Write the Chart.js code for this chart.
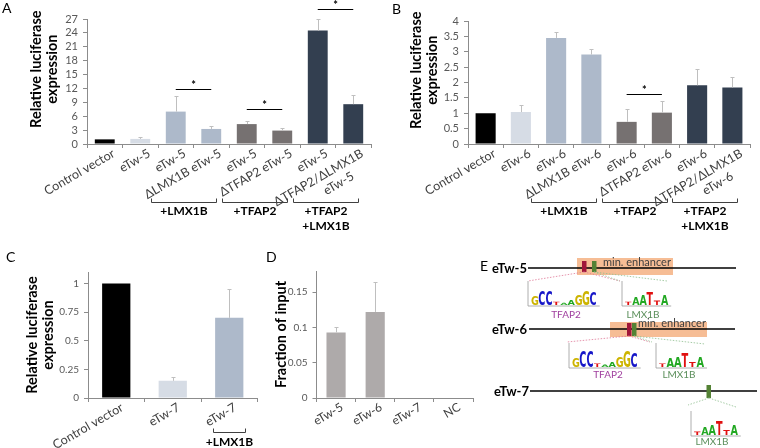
<!DOCTYPE html>
<html>
<head>
<meta charset="utf-8">
<script src="https://cdn.jsdelivr.net/npm/chart.js@4.4.0/dist/chart.umd.min.js"></script>
<style>
  html, body { margin: 0; padding: 0; background: #fff; }
  #page { position: relative; width: 760px; height: 448px; overflow: hidden; font-family: Lato, "Liberation Sans", sans-serif; }
  .panel { position: absolute; }
  .tag { position: absolute; font-size: 14px; line-height: 14px; color: #000; }
</style>
</head>
<body>
<div id="page">
  <canvas class="panel" id="chartA" width="380" height="240" style="left:0;top:0"></canvas>
  <canvas class="panel" id="chartB" width="380" height="240" style="left:380px;top:0"></canvas>
  <canvas class="panel" id="chartC" width="260" height="190" style="left:0;top:258px"></canvas>
  <canvas class="panel" id="chartD" width="230" height="190" style="left:255px;top:258px"></canvas>
  <svg class="panel" id="panelE" width="290" height="198" viewBox="470 250 290 198" style="left:470px;top:250px"></svg>
  <div class="tag" style="left:2px;top:1px">A</div>
  <div class="tag" style="left:392px;top:2px">B</div>
  <div class="tag" style="left:6px;top:250px">C</div>
  <div class="tag" style="left:266px;top:250px">D</div>
</div>
<script>
// ---- data ----
const labelsA = ['Control vector', 'eTw-5', 'eTw-5', 'ΔLMX1B eTw-5', 'eTw-5', 'ΔTFAP2 eTw-5', 'eTw-5', ['ΔTFAP2/ΔLMX1B', 'eTw-5      ']];
const valuesA = [1.0, 1.1, 7.0, 3.25, 4.3, 2.9, 24.5, 8.6];
const errorsA = [0, 0.4, 3.4, 0.65, 0.7, 0.5, 2.6, 2.0];
const sigA = [{ from: 2, to: 3, at: 11.9 }, { from: 4, to: 5, at: 7.6 }, { from: 6, to: 7, at: 29.2 }];

const labelsB = ['Control vector', 'eTw-6', 'eTw-6', 'ΔLMX1B eTw-6', 'eTw-6', 'ΔTFAP2 eTw-6', 'eTw-6', ['ΔTFAP2/ΔLMX1B', 'eTw-6      ']];
const valuesB = [1.0, 1.04, 3.45, 2.91, 0.72, 1.02, 1.91, 1.84];
const errorsB = [0, 0.23, 0.18, 0.19, 0.43, 0.38, 0.52, 0.34];
const sigB = [{ from: 4, to: 5, at: 1.63 }];

const groupsAB = [
    { from: 2, to: 3, lines: ['+LMX1B'] },
    { from: 4, to: 5, lines: ['+TFAP2'] },
    { from: 6, to: 7, lines: ['+TFAP2', '+LMX1B'] }
];

const labelsC = ['Control vector', 'eTw-7', 'eTw-7'];
const valuesC = [1.0, 0.15, 0.70];
const errorsC = [0, 0.03, 0.25];
const groupsC = [{ from: 2, to: 2, lines: ['+LMX1B'] }];

const labelsD = ['eTw-5', 'eTw-6', 'eTw-7', 'NC'];
const valuesD = [0.093, 0.122, 0, 0];
const errorsD = [0.007, 0.043, 0, 0];

// leading spaces lift the A/B titles above the axis centre, as in the figure
const titleAB = ['       Relative luciferase', '       expression'];
const titleC = ['Relative luciferase', 'expression'];
const colorsAB = ['#000000', '#d6dce5', '#adb9ca', '#adb9ca', '#767171', '#767171', '#333f50', '#333f50'];
const colorsC = ['#000000', '#d6dce5', '#adb9ca'];
const colorD = '#aeaaaa';

// sequence logo letters: [base, height in px]
const logoTFAP2 = [['G', 8], ['C', 13], ['C', 13], ['T', 3], ['A', 2], ['A', 4], ['G', 9], ['G', 13], ['C', 12]];
const logoLMX1B = [['T', 3], ['A', 7], ['A', 9], ['T', 12], ['T', 4], ['A', 9]];

const AXIS = '#8c8c8c';
const FONT = 'Lato, "Liberation Sans", sans-serif';
Chart.defaults.font.family = FONT;

function fmt(v) {
    return String(+Number(v).toFixed(2));
}

function makeBarChart(id, o) {
    const errorBars = {
        id: 'errorBars',
        afterDatasetsDraw(chart) {
            const meta = chart.getDatasetMeta(0);
            const y = chart.scales.y;
            const ctx = chart.ctx;
            ctx.save();
            ctx.strokeStyle = '#bfbfbf';
            ctx.lineWidth = 1;
            meta.data.forEach((bar, i) => {
                const e = o.errors[i];
                if (!e) {
                    return;
                }
                const top = Math.round(y.getPixelForValue(o.values[i] + e)) + 0.5;
                const bx = Math.round(bar.x) + 0.5;
                ctx.beginPath();
                ctx.moveTo(bx, bar.y);
                ctx.lineTo(bx, top);
                ctx.moveTo(bx - 2, top);
                ctx.lineTo(bx + 2, top);
                ctx.stroke();
            });
            ctx.restore();
        }
    };

    const extras = {
        id: 'extras',
        afterDraw(chart) {
            const x = chart.scales.x;
            const y = chart.scales.y;
            const ctx = chart.ctx;
            ctx.save();
            ctx.strokeStyle = '#000';
            ctx.fillStyle = '#000';
            ctx.lineWidth = 1;
            (o.sig || []).forEach(m => {
                const x1 = x.getPixelForValue(m.from);
                const x2 = x.getPixelForValue(m.to);
                const yy = Math.round(y.getPixelForValue(m.at)) + 0.5;
                ctx.beginPath();
                ctx.moveTo(x1, yy);
                ctx.lineTo(x2, yy);
                ctx.stroke();
                ctx.font = 'bold 11px ' + FONT;
                ctx.textAlign = 'center';
                ctx.textBaseline = 'middle';
                ctx.fillText('*', (x1 + x2) / 2, yy - 4);
            });
            const b = o.brackets;
            if (b) {
                b.groups.forEach(g => {
                    const x1 = Math.round(x.getPixelForValue(g.from) - b.padLeft) + 0.5;
                    const x2 = Math.round(x.getPixelForValue(g.to) + b.padRight) + 0.5;
                    const yb = b.y + 0.5;
                    ctx.strokeStyle = '#404040';
                    ctx.beginPath();
                    ctx.moveTo(x1, yb - 4);
                    ctx.lineTo(x1, yb);
                    ctx.lineTo(x2, yb);
                    ctx.lineTo(x2, yb - 4);
                    ctx.stroke();
                    ctx.font = 'bold 12px ' + FONT;
                    ctx.textAlign = 'center';
                    ctx.textBaseline = 'middle';
                    g.lines.forEach((t, k) => ctx.fillText(t, (x1 + x2) / 2, b.textY + k * 15));
                });
            }
            ctx.restore();
        }
    };

    return new Chart(document.getElementById(id), {
        type: 'bar',
        data: {
            labels: o.labels,
            datasets: [
                {
                    data: o.values,
                    backgroundColor: o.colors,
                    borderWidth: 0,
                    barPercentage: o.barPct,
                    categoryPercentage: 1
                }
            ]
        },
        options: {
            responsive: false,
            animation: false,
            layout: { padding: o.padding },
            plugins: {
                legend: { display: false },
                tooltip: { enabled: false }
            },
            scales: {
                x: {
                    grid: { offset: true, drawOnChartArea: false, tickLength: 4, color: AXIS },
                    border: { color: AXIS },
                    ticks: {
                        autoSkip: false,
                        maxRotation: 30,
                        minRotation: 30,
                        padding: -2,
                        labelOffset: o.labelShift,
                        color: '#404040',
                        font: { size: o.xFont }
                    },
                    afterFit: scale => { scale.height = o.xHeight; }
                },
                y: {
                    min: 0,
                    max: o.max,
                    grid: { drawOnChartArea: false, tickLength: 4, color: AXIS },
                    border: { color: AXIS },
                    ticks: {
                        stepSize: o.step,
                        autoSkip: false,
                        padding: 5,
                        color: '#595959',
                        font: { size: o.yFont, lineHeight: 1 },
                        callback: v => fmt(v)
                    },
                    title: {
                        display: true,
                        text: o.title,
                        color: '#000',
                        font: { size: 14.5, weight: 'bold', lineHeight: 1.05 },
                        padding: { top: 4, bottom: 0 }
                    },
                    afterBuildTicks: scale => {
                        scale.ticks = scale.ticks.filter(t => Math.abs(t.value / o.step - Math.round(t.value / o.step)) < 1e-6);
                    },
                    afterFit: scale => { scale.width = o.yWidth; }
                }
            }
        },
        plugins: [errorBars, extras]
    });
}

makeBarChart('chartA', {
    labels: labelsA, values: valuesA, errors: errorsA, colors: colorsAB, sig: sigA,
    brackets: { groups: groupsAB, padLeft: 25, padRight: 5, y: 202, textY: 211 },
    max: 27, step: 3, barPct: 0.56, title: titleAB,
    padding: { left: 25, top: 19, right: 9, bottom: 0 }, yWidth: 62, xHeight: 96,
    xFont: 12.5, yFont: 11, labelShift: 9
});

makeBarChart('chartB', {
    labels: labelsB, values: valuesB, errors: errorsB, colors: colorsAB, sig: sigB,
    brackets: { groups: groupsAB, padLeft: 25, padRight: 5, y: 202, textY: 211 },
    max: 4, step: 0.5, barPct: 0.57, title: titleAB,
    padding: { left: 25, top: 21, right: 10, bottom: 0 }, yWidth: 63, xHeight: 96,
    xFont: 12.5, yFont: 11, labelShift: 9
});

makeBarChart('chartC', {
    labels: labelsC, values: valuesC, errors: errorsC, colors: colorsC,
    brackets: { groups: groupsC, padLeft: 16, padRight: 16, y: 174, textY: 184 },
    max: 1.1, step: 0.25, barPct: 0.5, title: titleC,
    padding: { left: 21, top: 14, right: 2.5, bottom: 0 }, yWidth: 67, xHeight: 50,
    xFont: 12.5, yFont: 10, labelShift: 6
});

makeBarChart('chartD', {
    labels: labelsD, values: valuesD, errors: errorsD, colors: colorD,
    max: 0.18, step: 0.05, barPct: 0.49, title: 'Fraction of input',
    padding: { left: 14.5, top: 13, right: 12, bottom: 0 }, yWidth: 47, xHeight: 50,
    xFont: 12, yFont: 10, labelShift: 6
});

// ---- panel E: enhancer schematic ----
const SVGNS = 'http://www.w3.org/2000/svg';
const svg = document.getElementById('panelE');
const baseColors = { A: '#22a822', C: '#1616c8', G: '#cdb400', T: '#e01010' };

function el(tag, attrs, text) {
    const node = document.createElementNS(SVGNS, tag);
    Object.keys(attrs).forEach(k => node.setAttribute(k, attrs[k]));
    if (text !== undefined) {
        node.textContent = text;
    }
    svg.appendChild(node);
    return node;
}

function logo(x0, base, w, letters, scale) {
    el('line', { x1: x0 - 3, y1: base - 24, x2: x0 - 3, y2: base + 1, stroke: '#9a9a9a', 'stroke-width': 0.8 });
    el('line', { x1: x0 - 3, y1: base + 1, x2: x0 + letters.length * w + 3, y2: base + 1, stroke: '#9a9a9a', 'stroke-width': 0.8 });
    letters.forEach(([ch, h], i) => {
        el('text', {
            x: 0, y: 0, fill: baseColors[ch], 'font-family': 'DejaVu Sans', 'font-weight': 'bold', 'font-size': 10,
            transform: `translate(${x0 + i * w},${base}) scale(${w / 7.6},${(h * scale) / 7.3})`
        }, ch);
    });
}

function dotted(x1, y1, x2, y2, color) {
    el('line', { x1, y1, x2, y2, stroke: color, 'stroke-width': 0.8, 'stroke-dasharray': '1.5 1.5' });
}

function label(x, y, text, attrs) {
    return el('text', Object.assign({ x, y, 'font-family': FONT }, attrs), text);
}

label(480, 271, 'E', { 'font-size': 14 });

// eTw-5
el('rect', { x: 577, y: 258, width: 96, height: 17, fill: '#f4b183', opacity: 0.85 });
label(603, 266, 'min. enhancer', { 'font-size': 11, fill: '#404040' });
el('line', { x1: 528, y1: 268, x2: 736, y2: 268, stroke: '#000', 'stroke-width': 1.3 });
label(527, 273, 'eTw-5', { 'font-size': 13, 'font-weight': 'bold', 'text-anchor': 'end' });
el('rect', { x: 582, y: 261, width: 4.5, height: 11, fill: '#a0163a' });
el('rect', { x: 592, y: 261, width: 4.5, height: 11, fill: '#548235' });
dotted(584, 272, 528, 281, '#e07898');
dotted(584, 272, 620, 281, '#e07898');
dotted(594, 272, 620, 281, '#8fbf8f');
dotted(594, 272, 667, 281, '#8fbf8f');
logo(531, 305, 7.3, logoTFAP2, 1.1);
logo(625, 305, 7.2, logoLMX1B, 1.1);
label(566, 318, 'TFAP2', { 'font-size': 10, fill: '#a0409f', 'text-anchor': 'middle' });
label(643, 318, 'LMX1B', { 'font-size': 10, fill: '#5b8f5b', 'text-anchor': 'middle' });

// eTw-6
el('rect', { x: 610, y: 322, width: 97, height: 15, fill: '#f4b183', opacity: 0.85 });
label(638, 327, 'min. enhancer', { 'font-size': 11, fill: '#404040' });
el('line', { x1: 529, y1: 329, x2: 735, y2: 329, stroke: '#000', 'stroke-width': 1.3 });
label(527, 334, 'eTw-6', { 'font-size': 13, 'font-weight': 'bold', 'text-anchor': 'end' });
el('rect', { x: 627, y: 323, width: 4.5, height: 13, fill: '#a0163a' });
el('rect', { x: 632, y: 323, width: 4.5, height: 13, fill: '#548235' });
dotted(629, 336, 567, 342, '#e07898');
dotted(629, 336, 650, 342, '#e07898');
dotted(634, 336, 652, 342, '#8fbf8f');
dotted(634, 336, 705, 344, '#8fbf8f');
logo(572, 367, 7.3, logoTFAP2, 1.2);
logo(659, 367, 7.5, logoLMX1B, 1.2);
label(608, 378, 'TFAP2', { 'font-size': 10, fill: '#a0409f', 'text-anchor': 'middle' });
label(679, 378, 'LMX1B', { 'font-size': 10, fill: '#5b8f5b', 'text-anchor': 'middle' });

// eTw-7
el('line', { x1: 530, y1: 391, x2: 757, y2: 391, stroke: '#000', 'stroke-width': 1.3 });
label(529, 396, 'eTw-7', { 'font-size': 13, 'font-weight': 'bold', 'text-anchor': 'end' });
el('rect', { x: 706.5, y: 385, width: 4.5, height: 13, fill: '#548235' });
dotted(709, 398, 688, 405, '#8fbf8f');
dotted(709, 398, 736, 407, '#8fbf8f');
logo(694, 435, 7.3, logoLMX1B, 1.15);
label(712, 445, 'LMX1B', { 'font-size': 10, fill: '#5b8f5b', 'text-anchor': 'middle' });
</script>
</body>
</html>
